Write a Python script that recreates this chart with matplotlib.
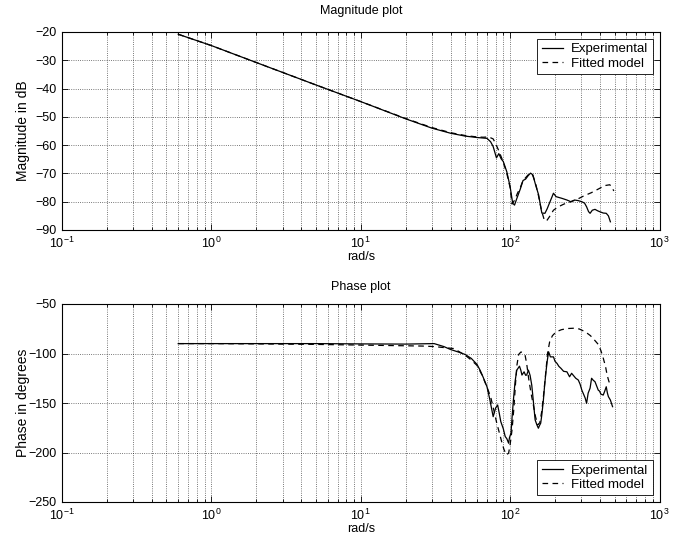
import matplotlib
matplotlib.use("Agg")
import matplotlib.pyplot as plt
from matplotlib.ticker import LogLocator, NullFormatter

plt.rcParams['font.family'] = ['Liberation Sans', 'DejaVu Sans']
plt.rcParams['font.size'] = 9
plt.rcParams['mathtext.default'] = 'regular'

# ---------------- data ----------------
w_mag_exp = [0.6, 1, 2, 5, 10, 20, 30, 40, 50, 60, 70, 74, 77, 81, 84, 87, 90, 95, 100, 104,
             107, 111, 117, 122, 127, 132, 137, 142, 148, 155, 163, 171, 177, 183, 190, 195,
             203, 212, 222, 240, 255, 270, 285, 302, 315, 325, 335, 343, 355, 370, 385, 397,
             420, 440, 455, 469]
mag_exp = [-20.8, -24.8, -30.8, -38.7, -44.6, -50.7, -54.0, -55.8, -56.8, -57.3, -57.6, -58.8,
           -60.5, -64.5, -63.0, -64.8, -65.8, -69.4, -74.7, -80.5, -81.2, -78.8, -75.5, -72.5,
           -72.0, -70.8, -69.9, -70.5, -74.0, -77.5, -84.0, -84.1, -82.5, -80.6, -78.5, -77.0,
           -78.2, -78.5, -78.8, -79.4, -80.0, -79.4, -79.6, -80.0, -80.5, -81.8, -83.5, -84.1,
           -83.0, -82.7, -83.2, -83.5, -84.0, -84.1, -85.0, -87.1]

w_mag_fit = [0.6, 1, 2, 5, 10, 20, 30, 40, 50, 60, 66, 72, 77, 80, 84, 90, 95, 100, 103, 107,
             112, 117, 122, 127, 132, 137, 142, 148, 155, 162, 170, 177, 185, 195, 210, 230,
             255, 280, 310, 350, 390, 430, 465, 480, 495]
mag_fit = [-20.8, -24.8, -30.8, -38.7, -44.6, -50.6, -53.8, -55.6, -56.6, -57.1, -57.2, -57.1,
           -57.8, -59.5, -62.0, -66.0, -70.0, -75.0, -80.8, -79.5, -77.0, -75.0, -72.5, -71.5,
           -70.5, -70.0, -70.8, -73.5, -78.0, -83.0, -86.8, -86.5, -85.0, -83.0, -81.8, -80.8,
           -80.0, -79.2, -78.0, -76.8, -75.5, -74.3, -74.0, -75.0, -76.2]

w_ph_exp = [0.6, 1, 2, 5, 10, 20, 31, 36, 40, 45, 50, 55, 60, 63, 66, 70, 73, 77, 80, 82.5,
            84.5, 86.6, 90, 92.7, 95, 97.7, 99, 101.3, 103, 105.2, 108, 110.8, 115.5, 118, 120,
            124, 127, 129, 132.5, 136, 139.6, 143, 147, 151, 154.6, 157, 160.2, 163, 167, 170,
            173.3, 177, 181, 186, 195, 200, 206, 212, 219, 228, 240, 250, 258, 264, 275, 286,
            294, 302, 310, 318, 325, 333, 343, 351, 360, 370, 380, 389, 397, 405, 420, 430,
            440, 448, 455, 469, 485]
ph_exp = [-90, -90, -90, -90, -90.3, -90.5, -90, -93, -96, -98.5, -101, -105, -111, -117, -124,
          -133.6, -146, -163.8, -155, -152, -160, -168.8, -176, -183.9, -186, -190.6, -185,
          -180.5, -165, -147, -128, -116.8, -112.8, -117, -121.8, -118.5, -122, -121.8, -116.8,
          -122, -132, -148, -167, -172, -175.5, -173, -170.4, -162, -147, -133, -120.1, -108,
          -98.3, -103.4, -103.4, -108, -110, -113, -115, -118, -118.5, -123.5, -120, -121.8,
          -125, -126.8, -131, -137, -141, -145, -150.3, -140, -135, -125, -127, -128.5, -133,
          -137, -138, -141, -142, -138, -133.6, -140, -143.6, -147, -153.7]

w_ph_fit = [0.6, 1, 2, 5, 10, 20, 26, 31, 36, 42, 50, 55, 60, 65, 70, 74, 78, 81.4, 85, 88.3,
            91, 94.3, 97.7, 100, 103, 106, 108.7, 111, 114, 118, 122, 126, 129, 133, 138, 143,
            148, 153, 158, 163, 168, 173, 178, 184, 192, 203, 220, 240, 265, 290, 318, 345,
            370, 390, 405, 420, 435, 446, 458, 469]
ph_fit = [-90, -90, -90.3, -90.8, -91.5, -92.2, -92.5, -93, -94, -95, -101.7, -106.7, -112,
          -122, -134, -143.6, -158, -170.4, -181, -190.6, -197, -202.4, -200.7, -192, -177,
          -155, -130, -112, -101, -98.5, -99, -102, -110, -125, -140, -152, -164, -172, -170,
          -158, -140, -120, -100, -88, -82, -78.2, -76, -74.8, -74.5, -75.2, -78, -82, -87,
          -91, -97, -104.6, -113, -121.8, -128, -132]

# ---------------- plot ----------------
fig = plt.figure(figsize=(6.81, 5.37), dpi=100)
ax1 = fig.add_axes([62 / 681, 1 - 230 / 537, 597.5 / 681, 198 / 537])
ax2 = fig.add_axes([62 / 681, 1 - 502 / 537, 597.5 / 681, 198 / 537])

DASH = (0, (4.5, 3.5))


def style(ax, ylim, yticks):
    ax.set_xscale('log')
    ax.set_xlim(0.1, 1000)
    ax.set_ylim(*ylim)
    ax.set_yticks(yticks)
    ax.xaxis.set_major_locator(LogLocator(base=10, numticks=10))
    ax.xaxis.set_minor_locator(LogLocator(base=10, subs=range(2, 10), numticks=100))
    ax.xaxis.set_minor_formatter(NullFormatter())
    ax.tick_params(which='both', direction='in', top=True, right=True, labelsize=9,
                   colors='black', width=0.6)
    ax.tick_params(which='major', length=4, pad=4)
    ax.tick_params(which='minor', length=2)
    ax.grid(True, which='major', linestyle=':', color='black', linewidth=0.6, alpha=0.7)
    ax.grid(True, which='minor', axis='x', linestyle=':', color='black', linewidth=0.6, alpha=0.7)
    for s in ax.spines.values():
        s.set_linewidth(0.8)
    ax.set_xlabel('rad/s', fontsize=9, labelpad=0)
    ax.yaxis.set_label_coords(-0.053, 0.5)


style(ax1, (-90, -20), [-90, -80, -70, -60, -50, -40, -30, -20])
ax1.plot(w_mag_exp, mag_exp, color='black', linewidth=0.9, label='Experimental')
ax1.plot(w_mag_fit, mag_fit, color='black', linewidth=0.9, linestyle=DASH, label='Fitted model')
ax1.set_ylabel('Magnitude in dB', fontsize=10)
ax1.set_title('Magnitude plot', fontsize=9, pad=13)
leg1 = ax1.legend(loc='upper right', fontsize=9.5, fancybox=False, framealpha=1,
                  edgecolor='black', handlelength=1.6, handletextpad=0.6,
                  borderaxespad=0.5, labelspacing=0.15, borderpad=0.35)
leg1.get_frame().set_linewidth(0.6)

style(ax2, (-250, -50), [-250, -200, -150, -100, -50])
ax2.plot(w_ph_exp, ph_exp, color='black', linewidth=0.9, label='Experimental')
ax2.plot(w_ph_fit, ph_fit, color='black', linewidth=0.9, linestyle=DASH, label='Fitted model')
ax2.set_ylabel('Phase in degrees', fontsize=10)
ax2.set_title('Phase plot', fontsize=9, pad=10)
leg2 = ax2.legend(loc='lower right', fontsize=9.5, fancybox=False, framealpha=1,
                  edgecolor='black', handlelength=1.6, handletextpad=0.6,
                  borderaxespad=0.5, labelspacing=0.15, borderpad=0.35)
leg2.get_frame().set_linewidth(0.6)

fig.savefig('out.png', dpi=100)
